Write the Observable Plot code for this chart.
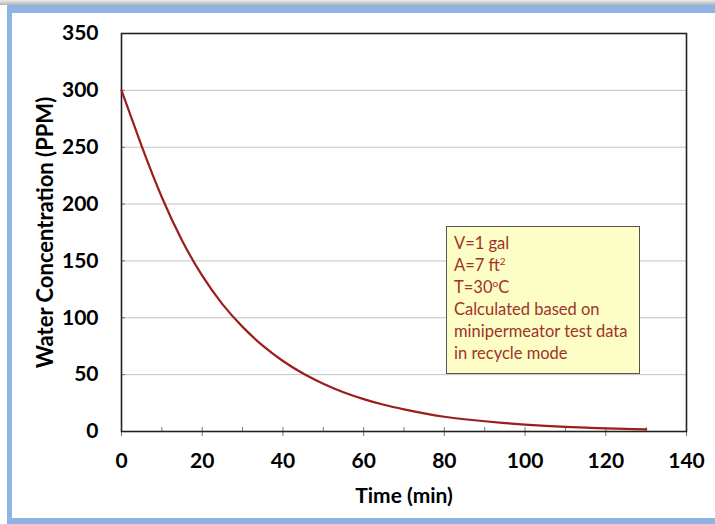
<!DOCTYPE html>
<html>
<head>
<meta charset="utf-8">
<script src="https://cdn.jsdelivr.net/npm/d3@7"></script>
<script src="https://cdn.jsdelivr.net/npm/@observablehq/plot@0.6"></script>
<style>
  html, body { margin: 0; padding: 0; background: #fff; }
  #wrap { position: relative; width: 715px; height: 524px; overflow: hidden; background: #fff; }
  #shadow { position: absolute; left: 0; top: 0; width: 715px; height: 5px; background: linear-gradient(#ececec, #b4b4b4); }
  #border { position: absolute; left: 7px; top: 5px; width: 800px; height: 519px; box-sizing: border-box;
            border-left: 5px solid #8db4e2; border-top: 8px solid #8db4e2; border-bottom: 6px solid #8db4e2; pointer-events: none; z-index: 2; }
  #chart { position: absolute; left: 0; top: 0; z-index: 1; }
  #note { position: absolute; left: 446px; top: 226px; width: 194px; height: 148px; box-sizing: border-box;
          background: #fdfdc6; border: 1.5px solid #555; z-index: 3;
          font-family: Lato, "Open Sans", sans-serif; font-size: 16.5px; color: #a0322a; line-height: 22px; padding: 5px 0 0 7px; white-space: nowrap; }
  #note sup { font-size: 10px; line-height: 0; vertical-align: 6px; }
</style>
</head>
<body>
<div id="wrap">
  <div id="shadow"></div>
  <div id="border"></div>
  <div id="chart"></div>
  <div id="note">
    V=1 gal<br>
    A=7 ft<sup>2</sup><br>
    T=30<sup>o</sup>C<br>
    Calculated based on<br>
    minipermeator test data<br>
    in recycle mode
  </div>
</div>
<script>
// Data
const timeMin = [0, 5, 10, 15, 20, 25, 30, 35, 40, 45, 50, 55, 60, 65, 70, 75, 80, 85, 90, 95, 100, 105, 110, 115, 120, 125, 130];
const waterPPM = [300, 251, 206, 168, 137, 112, 92, 75.5, 62, 51, 42, 34.5, 28.5, 23.5, 19.5, 16, 13, 10.8, 9, 7.4, 6.1, 5, 4.1, 3.4, 2.8, 2.3, 1.9];
const xTicks = [0, 20, 40, 60, 80, 100, 120, 140];
const xMinorTicks = [10, 20, 30, 40, 50, 60, 70, 80, 90, 100, 110, 120, 130];
const yTicks = [0, 50, 100, 150, 200, 250, 300, 350];
const yGrid = [50, 100, 150, 200, 250, 300];
const xTitle = "Time (min)";
const yTitle = "Water Concentration (PPM)";

const data = timeMin.map((t, i) => ({t, c: waterPPM[i]}));

const W = 715, H = 524;
const mL = 121, mR = 29, mT = 33, mB = 93;
const innerW = W - mL - mR, innerH = H - mT - mB;
const font = "Lato, 'Open Sans', sans-serif";

const chart = Plot.plot({
  width: W,
  height: H,
  marginLeft: mL,
  marginRight: mR,
  marginTop: mT,
  marginBottom: mB,
  style: {background: "transparent", fontFamily: font, color: "#000", overflow: "visible"},
  x: {domain: [0, 140]},
  y: {domain: [0, 350]},
  marks: [
    Plot.ruleY(yGrid, {y: d => d, stroke: "#c4c4c4", strokeWidth: 1}),
    Plot.ruleY(yGrid, {y: d => d, stroke: "#777", strokeWidth: 1, insetRight: innerW - 4}),
    Plot.ruleX(xMinorTicks, {x: d => d, stroke: "#777", strokeWidth: 1, insetTop: innerH - 4}),
    Plot.axisX({ticks: xTicks, tickSize: 5, tickPadding: 17, tickFormat: d => String(d), fontSize: 21, fontWeight: "bold", stroke: "#777", label: null}),
    Plot.axisY({ticks: yTicks, tickSize: 0, tickPadding: 23, tickFormat: d => String(d), fontSize: 21, fontWeight: "bold", label: null}),
    Plot.frame({stroke: "#222", strokeWidth: 1.6}),
    Plot.line(data, {x: "t", y: "c", stroke: "#9b1d1d", strokeWidth: 2.2, curve: "natural"}),
    Plot.text([xTitle], {frameAnchor: "bottom", dy: 65, lineAnchor: "middle", text: d => d, fontSize: 21, fontWeight: "bold", fill: "#000"}),
    Plot.text([yTitle], {frameAnchor: "left", dx: -76, rotate: -90, textAnchor: "middle", lineAnchor: "middle", text: d => d, fontSize: 22, fontWeight: "bold", fill: "#000"})
  ]
});
document.getElementById("chart").appendChild(chart);
</script>
</body>
</html>
